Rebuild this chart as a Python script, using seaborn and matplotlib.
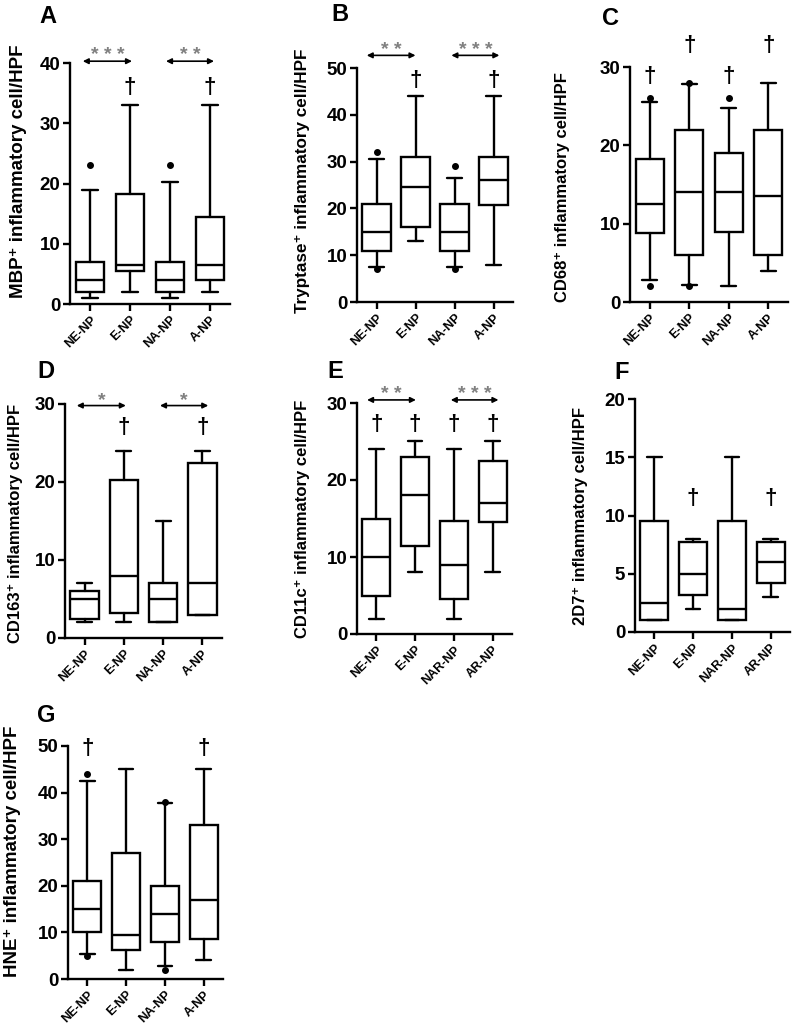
import matplotlib
matplotlib.use("Agg")
import matplotlib.pyplot as plt
import seaborn as sns

# groups on the x axis
groups = ["NE-NP", "E-NP", "NA-NP", "A-NP"]
groups_r = ["NE-NP", "E-NP", "NAR-NP", "AR-NP"]

# A: MBP+ cells (box summary)
mbp_lo = [1, 2, 1, 2]
mbp_q1 = [2, 5.5, 2, 4]
mbp_med = [4, 6.5, 4, 6.5]
mbp_q3 = [7, 18.3, 7, 14.5]
mbp_hi = [19, 33, 20.2, 33]
mbp_out = [[23], [], [23], []]

# B: Tryptase+ cells
try_lo = [7.5, 13, 7.5, 8]
try_q1 = [11, 16, 11, 20.8]
try_med = [15, 24.5, 15, 26]
try_q3 = [21, 31, 21, 31]
try_hi = [30.5, 44, 26.6, 44]
try_out = [[32, 7], [], [29, 7], []]

# C: CD68+ cells
cd68_lo = [2.8, 2.2, 2, 4]
cd68_q1 = [8.8, 6, 9, 6]
cd68_med = [12.5, 14, 14, 13.5]
cd68_q3 = [18.2, 22, 19, 22]
cd68_hi = [25.5, 27.8, 24.8, 28]
cd68_out = [[26, 2], [28, 2], [26], []]

# D: CD163+ cells
cd163_lo = [2, 2, 2, 3]
cd163_q1 = [2.5, 3.2, 2, 3]
cd163_med = [5, 8, 5, 7]
cd163_q3 = [6, 20.2, 7, 22.4]
cd163_hi = [7, 24, 15, 24]
cd163_out = [[], [], [], []]

# E: CD11c+ cells
cd11_lo = [2, 8, 2, 8]
cd11_q1 = [5, 11.4, 4.5, 14.5]
cd11_med = [10, 18, 9, 17]
cd11_q3 = [15, 23, 14.7, 22.5]
cd11_hi = [24, 25, 24, 25]
cd11_out = [[], [], [], []]

# F: 2D7+ cells
d27_lo = [1, 2, 1, 3]
d27_q1 = [1, 3.2, 1, 4.2]
d27_med = [2.5, 5, 2, 6]
d27_q3 = [9.5, 7.75, 9.5, 7.75]
d27_hi = [15, 8, 15, 8]
d27_out = [[], [], [], []]

# G: HNE+ cells
hne_lo = [5.4, 2, 2.7, 4]
hne_q1 = [10, 6.2, 8, 8.5]
hne_med = [15, 9.5, 14, 17]
hne_q3 = [21, 27, 20, 33]
hne_hi = [42.5, 45, 37.7, 45]
hne_out = [[44, 5], [], [38, 2], []]

# significance brackets: (from, to, y, stars)
mbp_sig = [(-0.18, 1.05, 40.3, "* * *"), (1.9, 3.1, 40.3, "* *")]
try_sig = [(-0.25, 1.0, 52.7, "* *"), (1.92, 3.15, 52.7, "* * *")]
cd163_sig = [(-0.2, 1.05, 29.8, "*"), (1.92, 3.15, 29.8, "*")]
cd11_sig = [(-0.24, 1.02, 30.4, "* *"), (1.92, 3.15, 30.4, "* * *")]

# dagger marks: (group index, y)
mbp_dag = [(1, 36), (3, 36)]
try_dag = [(1, 47.4), (3, 47.4)]
cd68_dag = [(0, 28.8), (1, 32.8), (2, 28.8), (3, 32.8)]
cd163_dag = [(1, 27), (3, 27)]
cd11_dag = [(0, 27.2), (1, 27.2), (2, 27.2), (3, 27.2)]
d27_dag = [(1, 11.5), (3, 11.5)]
hne_dag = [(0, 49.5), (3, 49.5)]

sns.set_theme(style="ticks")
plt.rcParams["font.family"] = ["Liberation Sans", "DejaVu Sans"]
plt.rcParams["font.weight"] = "bold"
plt.rcParams["text.color"] = "black"
plt.rcParams["axes.labelcolor"] = "black"
plt.rcParams["xtick.color"] = "black"
plt.rcParams["ytick.color"] = "black"
plt.rcParams["axes.edgecolor"] = "black"

W, H = 796, 1028
LW = 1.7
fig = plt.figure(figsize=(W / 100, H / 100), dpi=100)


def add_panel(rect, letter, letter_xy, labels, lo, q1, med, q3, hi, out,
              ylabel, ylabel_size, ylabel_pos, ymax, ystep, sig, dag):
    left, top, right, bottom = rect
    ax = fig.add_axes([left / W, 1 - bottom / H, (right - left) / W, (bottom - top) / H])
    stats = []
    for i in range(len(labels)):
        stats.append(dict(label=labels[i], whislo=lo[i], q1=q1[i], med=med[i],
                          q3=q3[i], whishi=hi[i], fliers=out[i]))
    ax.bxp(stats, positions=range(len(labels)), widths=0.72, capwidths=0.38,
           patch_artist=True, showfliers=True,
           boxprops=dict(facecolor="white", edgecolor="black", linewidth=LW),
           medianprops=dict(color="black", linewidth=LW),
           whiskerprops=dict(color="black", linewidth=LW),
           capprops=dict(color="black", linewidth=LW),
           flierprops=dict(marker="o", markerfacecolor="black",
                           markeredgecolor="black", markersize=4))
    ax.set_xlim(-0.5, 3.5)
    ax.set_ylim(0, ymax)
    ax.set_yticks(range(0, ymax + 1, ystep))
    ax.set_xticks(range(len(labels)))
    ax.set_xticklabels(labels, rotation=45, ha="right", rotation_mode="anchor",
                       fontsize=9, fontweight="bold")
    for t in ax.get_yticklabels():
        t.set_fontsize(13.5)
        t.set_fontweight("bold")
    ax.tick_params(axis="both", direction="out", length=5, width=LW, color="black", pad=2)
    sns.despine(ax=ax)
    for s in ["left", "bottom"]:
        ax.spines[s].set_linewidth(LW)
        ax.spines[s].set_color("black")
    ax.set_ylabel(ylabel, fontsize=ylabel_size, fontweight="bold", color="black")
    ax.yaxis.set_label_coords(*ylabel_pos)

    for x0, x1, y, stars in sig:
        ax.annotate("", xy=(x0, y), xytext=(x1, y), annotation_clip=False,
                    arrowprops=dict(arrowstyle="<|-|>", color="black", lw=1.2,
                                    mutation_scale=8, shrinkA=0, shrinkB=0))
        ax.annotate(stars, xy=((x0 + x1) / 2, y), xytext=(0, 0.5),
                    textcoords="offset points", ha="center", va="baseline",
                    color="#808080", fontsize=14, annotation_clip=False)
    for gi, y in dag:
        ax.text(gi, y, "\u2020", ha="center", va="center", fontsize=16,
                color="black", clip_on=False)

    fig.text(letter_xy[0] / W, 1 - letter_xy[1] / H, letter, fontsize=17,
             fontweight="bold", ha="left", va="baseline")
    return ax


add_panel((70, 63, 230, 304), "A", (39, 23), groups,
          mbp_lo, mbp_q1, mbp_med, mbp_q3, mbp_hi, mbp_out,
          "MBP\u207a inflammatory cell/HPF", 13.5, (-0.27, 0.55), 40, 10, mbp_sig, mbp_dag)
add_panel((357, 68, 513, 302), "B", (331, 21), groups,
          try_lo, try_q1, try_med, try_q3, try_hi, try_out,
          "Tryptase\u207a inflammatory cell/HPF", 12.3, (-0.3, 0.52), 50, 10, try_sig, try_dag)
add_panel((630, 67, 788, 302), "C", (602, 25), groups,
          cd68_lo, cd68_q1, cd68_med, cd68_q3, cd68_hi, cd68_out,
          "CD68\u207a inflammatory cell/HPF", 12, (-0.38, 0.49), 30, 10, [], cd68_dag)
add_panel((65, 404, 222, 638), "D", (37, 378), groups,
          cd163_lo, cd163_q1, cd163_med, cd163_q3, cd163_hi, cd163_out,
          "CD163\u207a inflammatory cell/HPF", 12, (-0.27, 0.49), 30, 10, cd163_sig, cd163_dag)
add_panel((357, 403, 512, 634), "E", (327, 378), groups_r,
          cd11_lo, cd11_q1, cd11_med, cd11_q3, cd11_hi, cd11_out,
          "CD11c\u207a inflammatory cell/HPF", 12, (-0.3, 0.5), 30, 10, cd11_sig, cd11_dag)
add_panel((635, 399, 790, 632), "F", (614, 379), groups_r,
          d27_lo, d27_q1, d27_med, d27_q3, d27_hi, d27_out,
          "2D7\u207a inflammatory cell/HPF", 12, (-0.3, 0.5), 20, 5, [], d27_dag)
add_panel((68, 746, 223, 979), "G", (37, 722), groups,
          hne_lo, hne_q1, hne_med, hne_q3, hne_hi, hne_out,
          "HNE\u207a inflammatory cell/HPF", 13.5, (-0.3, 0.55), 50, 10, [], hne_dag)

fig.savefig("out.png", dpi=100, facecolor="white")
